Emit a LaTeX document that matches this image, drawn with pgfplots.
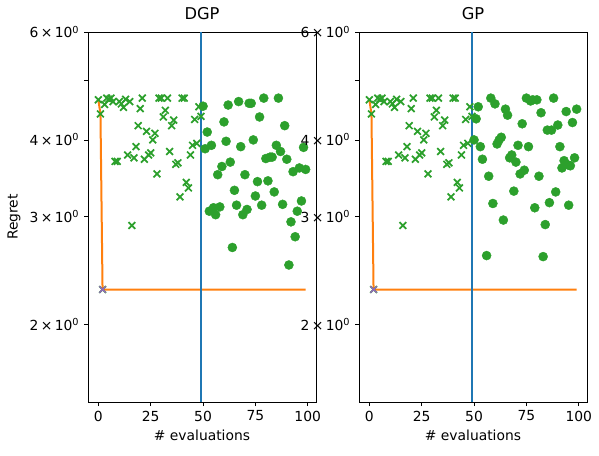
\documentclass[border=0pt]{standalone}
\usepackage{pgfplots}
\pgfplotsset{compat=1.18}
\usepackage{pgfplotstable}
\usepackage{fontspec}
\setmainfont{DejaVu Sans}
\definecolor{tabblue}{HTML}{1F77B4}
\definecolor{taborange}{HTML}{FF7F0E}
\definecolor{tabgreen}{HTML}{2CA02C}
\definecolor{tabpurple}{HTML}{9467BD}
\newcommand{\tl}[1]{#1\,×\,10\textsuperscript{0}}

\pgfplotstableread{
x y
0 4.65
1 4.41
2 2.28
3 4.57
4 4.68
5 4.66
6 4.68
7 4.62
8 3.69
9 3.69
10 4.62
11 4.58
12 4.52
13 4.66
14 3.78
15 4.62
16 2.90
17 3.74
18 3.90
19 4.22
20 4.50
21 4.68
22 3.72
23 4.13
24 3.78
25 3.81
26 4.00
27 4.10
28 3.52
29 4.68
30 4.68
31 4.36
32 4.47
33 4.68
34 3.83
35 4.22
36 4.31
37 3.65
38 3.67
39 3.23
40 4.68
41 4.68
42 3.41
43 3.34
44 3.78
45 3.92
46 4.32
47 3.95
48 4.53
49 4.37
}\initdata

\pgfplotstableread{
x y
50 4.54
51 3.87
52 4.12
53 3.06
54 3.92
55 3.10
56 3.02
57 3.51
58 3.11
59 3.62
60 4.28
61 3.98
62 4.56
63 3.68
64 2.67
65 3.31
66 3.13
67 4.62
68 3.90
69 3.02
70 3.51
71 3.08
72 4.59
73 4.59
74 4.00
75 3.24
76 3.42
77 4.36
78 3.13
79 4.68
80 3.73
81 3.43
82 3.75
83 3.75
84 3.29
85 3.92
86 4.68
87 3.83
88 3.14
89 4.22
90 3.72
91 2.50
92 2.94
93 3.55
94 2.78
95 3.06
96 3.60
97 3.18
98 3.89
99 3.58
}\dgpdata

\pgfplotstableread{
x y
50 4.00
51 4.33
52 4.53
53 3.90
54 3.72
56 2.59
57 3.49
58 4.68
59 3.15
60 4.58
61 3.94
62 4.00
63 4.04
64 2.96
65 4.49
66 4.39
67 3.74
68 3.78
69 3.30
70 3.68
71 3.92
72 3.52
73 4.25
74 3.57
75 4.68
76 3.90
77 4.63
78 4.65
79 3.10
80 4.65
81 3.49
82 4.43
83 2.58
84 2.91
85 4.15
86 3.16
87 4.15
88 4.68
89 3.29
90 4.23
91 3.90
92 3.60
93 3.70
94 4.45
95 3.64
95.2 3.13
96 3.63
97 4.27
98 3.74
99 4.49
}\gpdata

\pgfplotsset{
  myax/.style={
    scale only axis, width=171pt, height=277.5pt,
    xmin=-4.95, xmax=103.95,
    ymin=1.494, ymax=6,
    xtick={0,25,50,75,100},
    ytick={2,3,4,5,6},
    yticklabels={\tl{2},\tl{3},\tl{4},,\tl{6}},
    minor ytick={},
    tick align=outside, tick pos=left,
    major tick length=3pt,
    every tick/.style={black, line width=0.6pt},
    axis line style={line width=0.6pt},
    tick label style={font=\fontsize{10.4}{12}\selectfont},
    label style={font=\fontsize{10.4}{12}\selectfont},
    title style={font=\fontsize{12.2}{14}\selectfont},
    /pgf/number format/assume math mode=true,
    xlabel={\# evaluations},
    clip=false,
  },
  mycross/.style={only marks, mark=x, color=tabgreen, mark size=3.6pt, line width=1.3pt},
  mydot/.style={only marks, mark=*, color=tabgreen, mark size=3.4pt, line width=0.3pt},
}

\begin{document}
\begin{tikzpicture}[x=1pt,y=1pt]
\useasboundingbox (0,0) rectangle (449.25,341.25);
\begin{axis}[ymode=log, myax, at={(66pt,39.75pt)}, anchor=south west, ylabel={Regret}, title={DGP}]
\addplot[mycross] table[x=x,y=y] {\initdata};
\addplot[mydot] table[x=x,y=y] {\dgpdata};
\addplot[taborange, line width=1.5pt] coordinates {(0,4.65) (1,4.41) (2,2.28) (99,2.28)};
\addplot[tabblue, line width=1.5pt] coordinates {(49,1.494) (49,6)};
\addplot[only marks, mark=x, tabpurple, mark size=3.4pt, line width=1.1pt] coordinates {(2,2.28)};
\end{axis}
\begin{axis}[ymode=log, myax, at={(269.25pt,39.75pt)}, anchor=south west, title={GP}]
\addplot[mycross] table[x=x,y=y] {\initdata};
\addplot[mydot] table[x=x,y=y] {\gpdata};
\addplot[taborange, line width=1.5pt] coordinates {(0,4.65) (1,4.41) (2,2.28) (99,2.28)};
\addplot[tabblue, line width=1.5pt] coordinates {(49,1.494) (49,6)};
\addplot[only marks, mark=x, tabpurple, mark size=3.4pt, line width=1.1pt] coordinates {(2,2.28)};
\end{axis}
\end{tikzpicture}
\end{document}
